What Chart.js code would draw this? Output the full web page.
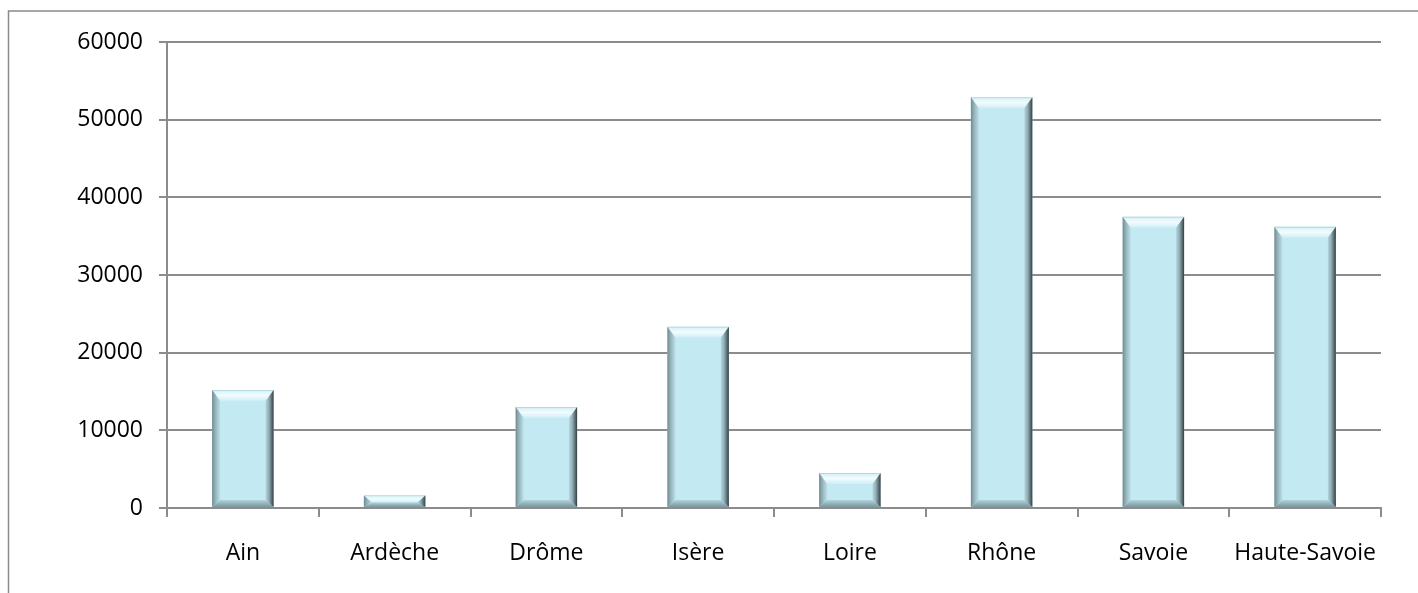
<!DOCTYPE html>
<html><head><meta charset="utf-8">
<script src="https://cdn.jsdelivr.net/npm/chart.js@4/dist/chart.umd.min.js"></script>
<style>html,body{margin:0;padding:0;background:#fff;overflow:hidden}#wrap{width:1418px;height:593px;position:relative}</style>
</head><body><div id="wrap"><canvas id="c" width="1418" height="593"></canvas></div>
<script>
const categories = ['Ain', 'Ardèche', 'Drôme', 'Isère', 'Loire', 'Rhône', 'Savoie', 'Haute-Savoie'];
const values = [15200, 1600, 13000, 23350, 4500, 52900, 37500, 36200];
const yTicks = [0, 10000, 20000, 30000, 40000, 50000, 60000];

const GRID = '#8c8c8c';
const FONT = { family: 'Open Sans', size: 23 };

const framePlugin = {
  id: 'frame',
  beforeDraw(chart) {
    const ctx = chart.ctx;
    ctx.save();
    ctx.fillStyle = '#fff';
    ctx.fillRect(0, 0, chart.width, chart.height);
    ctx.strokeStyle = '#8a8a8a';
    ctx.lineWidth = 1.5;
    ctx.strokeRect(8.5, 11, 1600, 800);
    ctx.restore();
  }
};

const bevelPlugin = {
  id: 'bevel',
  afterDatasetsDraw(chart) {
    const ctx = chart.ctx;
    chart.getDatasetMeta(0).data.forEach(bar => {
      const p = bar.getProps(['x', 'y', 'base', 'width'], true);
      const L = p.x - p.width / 2, R = p.x + p.width / 2;
      const T = Math.min(p.y, p.base), B = Math.max(p.y, p.base);
      const h = B - T;
      let bt = 11, bb = 7;
      const bs = 8;
      if (bt + bb > h) { const k = h / (bt + bb); bt *= k; bb *= k; }
      ctx.save();
      // top bevel
      let g = ctx.createLinearGradient(0, T, 0, T + bt);
      g.addColorStop(0, '#a6d0da'); g.addColorStop(0.15, '#dcf4f9');
      g.addColorStop(0.5, '#f3fcfe'); g.addColorStop(1, '#cdeef5');
      ctx.fillStyle = g;
      ctx.beginPath(); ctx.moveTo(L, T); ctx.lineTo(R, T); ctx.lineTo(R - bs, T + bt); ctx.lineTo(L + bs, T + bt); ctx.closePath(); ctx.fill();
      // bottom bevel
      g = ctx.createLinearGradient(0, B - bb, 0, B);
      g.addColorStop(0, '#b3d3db'); g.addColorStop(0.5, '#95b3ba'); g.addColorStop(1, '#7c979e');
      ctx.fillStyle = g;
      ctx.beginPath(); ctx.moveTo(L, B); ctx.lineTo(R, B); ctx.lineTo(R - bs, B - bb); ctx.lineTo(L + bs, B - bb); ctx.closePath(); ctx.fill();
      // left bevel
      g = ctx.createLinearGradient(L, 0, L + bs, 0);
      g.addColorStop(0, '#6e8990'); g.addColorStop(0.3, '#8eaab1'); g.addColorStop(0.7, '#a9c9d1'); g.addColorStop(1, '#bde0e9');
      ctx.fillStyle = g;
      ctx.beginPath(); ctx.moveTo(L, T); ctx.lineTo(L + bs, T + bt); ctx.lineTo(L + bs, B - bb); ctx.lineTo(L, B); ctx.closePath(); ctx.fill();
      // right bevel
      g = ctx.createLinearGradient(R - bs, 0, R, 0);
      g.addColorStop(0, '#b2d4dc'); g.addColorStop(0.4, '#91afb6'); g.addColorStop(0.75, '#5c6f74'); g.addColorStop(1, '#333f42');
      ctx.fillStyle = g;
      ctx.beginPath(); ctx.moveTo(R, T); ctx.lineTo(R - bs, T + bt); ctx.lineTo(R - bs, B - bb); ctx.lineTo(R, B); ctx.closePath(); ctx.fill();
      ctx.restore();
    });
  }
};

new Chart(document.getElementById('c'), {
  type: 'bar',
  data: {
    labels: categories,
    datasets: [{
      data: values,
      backgroundColor: '#c3e9f3',
      borderWidth: 0,
      barPercentage: 0.405,
      categoryPercentage: 1.0
    }]
  },
  options: {
    responsive: false,
    animation: false,
    devicePixelRatio: 1,
    layout: { padding: { top: 42, right: 37, left: 0, bottom: 0 } },
    plugins: { legend: { display: false }, tooltip: { enabled: false } },
    scales: {
      x: {
        type: 'category',
        offset: true,
        grid: { drawOnChartArea: false, drawTicks: true, tickLength: 9, color: GRID, lineWidth: 2, offset: true },
        border: { color: GRID, width: 2 },
        ticks: { color: '#000', font: FONT, padding: 23, maxRotation: 0, autoSkip: false },
        afterFit: s => { s.height = 85; }
      },
      y: {
        min: 0, max: 60000,
        afterBuildTicks: s => { s.ticks = yTicks.map(v => ({ value: v })); },
        grid: { color: GRID, lineWidth: 2, tickLength: 8, drawTicks: true },
        border: { color: GRID, width: 2 },
        ticks: { color: '#000', font: FONT, padding: 16, callback: v => String(v) },
        afterFit: s => { s.width = 167; }
      }
    }
  },
  plugins: [framePlugin, bevelPlugin]
});
</script>
</body></html>
